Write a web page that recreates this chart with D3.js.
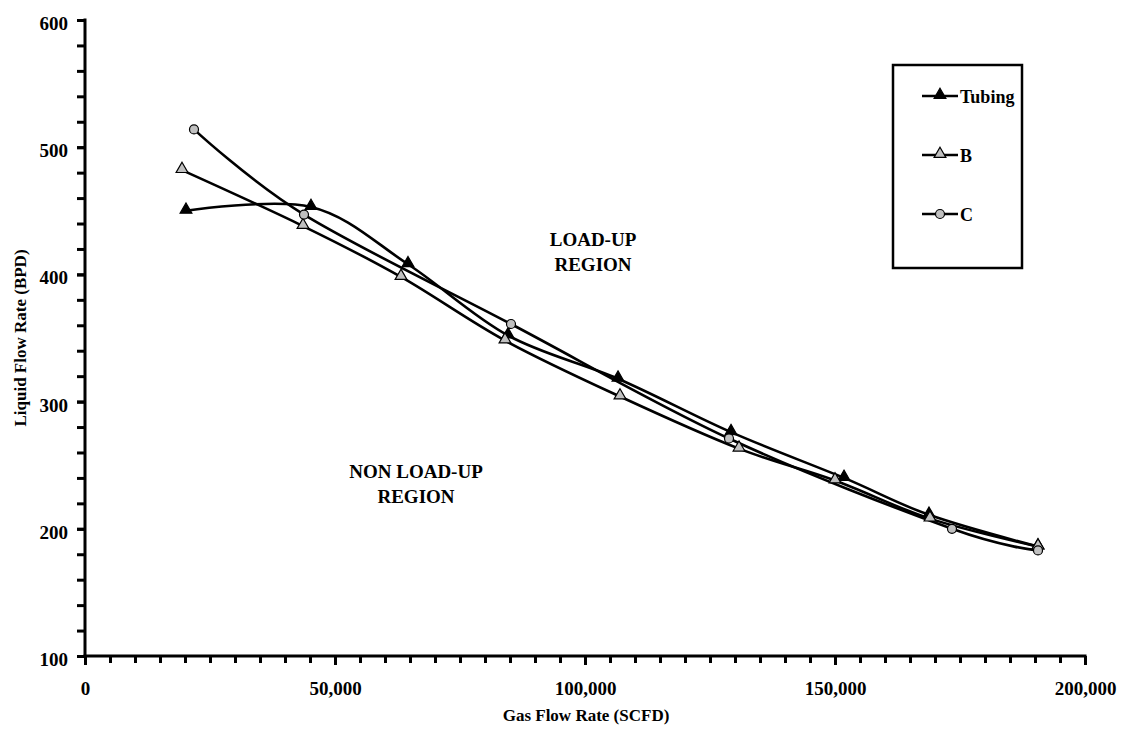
<!DOCTYPE html>
<html>
<head>
<meta charset="utf-8">
<script src="https://cdn.jsdelivr.net/npm/d3@7"></script>
<style>
  body { margin: 0; background: #fff; }
  text { font-family: "Liberation Serif", "Times New Roman", serif; font-weight: bold; fill: #000; }
</style>
</head>
<body>
<div id="wrapper"></div>
<script>
const tubingGas = [20200, 45200, 64600, 84600, 106600, 129200, 151800, 168800, 190600]
const tubingLiquid = [450, 453, 408, 352, 318, 276, 240, 211, 186]

const bGas = [19400, 43600, 63200, 84000, 107000, 130800, 150000, 169000, 190600]
const bLiquid = [482, 438, 398, 348, 304, 263, 238, 208, 186]

const cGas = [21800, 43800, 85200, 128800, 173400, 190600]
const cLiquid = [514, 447, 361, 271, 200, 183]

const xTicks = [0, 50000, 100000, 150000, 200000]
const yTicks = [100, 200, 300, 400, 500, 600]

const series = [
  { name: "Tubing", gas: tubingGas, liquid: tubingLiquid, marker: "filled" },
  { name: "B", gas: bGas, liquid: bLiquid, marker: "hollow" },
  { name: "C", gas: cGas, liquid: cLiquid, marker: "circle" },
]

const dimensions = {
  width: 1122,
  height: 737,
  margin: { top: 20, right: 35, bottom: 81, left: 85 },
}
dimensions.boundedWidth = dimensions.width - dimensions.margin.left - dimensions.margin.right
dimensions.boundedHeight = dimensions.height - dimensions.margin.top - dimensions.margin.bottom

const svg = d3.select("#wrapper").append("svg")
  .attr("width", dimensions.width)
  .attr("height", dimensions.height)

const bounds = svg.append("g")
  .attr("transform", `translate(${dimensions.margin.left},${dimensions.margin.top})`)

const xScale = d3.scaleLinear().domain([0, 200000]).range([0, 1000])
const yScale = d3.scaleLinear().domain([100, 600]).range([dimensions.boundedHeight, 0])

// minor ticks
const xMinor = bounds.append("g")
  .attr("transform", `translate(0,${dimensions.boundedHeight})`)
  .call(d3.axisBottom(xScale).tickValues(d3.range(0, 200001, 5000)).tickSize(7).tickFormat(""))
const xAxis = bounds.append("g")
  .attr("transform", `translate(0,${dimensions.boundedHeight})`)
  .call(d3.axisBottom(xScale).tickValues(xTicks).tickSize(9).tickPadding(17)
    .tickFormat(d3.format(",")))
const yMinor = bounds.append("g")
  .call(d3.axisLeft(yScale).tickValues(d3.range(100, 601, 20)).tickSize(8).tickFormat(""))
const yAxis = bounds.append("g")
  .call(d3.axisLeft(yScale).tickValues(yTicks).tickSize(8).tickPadding(9))

;[xMinor, xAxis, yMinor, yAxis].forEach(ax => {
  ax.attr("font-size", null).attr("font-family", null)
  ax.selectAll(".tick line").attr("stroke", "#000").attr("stroke-width", 3)
  ax.select(".domain").remove()
  ax.selectAll("text").style("font-size", "19px")
})
yAxis.selectAll("text").attr("dy", "0.5em")

// axis lines
bounds.append("line")
  .attr("x1", 0).attr("x2", 0)
  .attr("y1", -1.5).attr("y2", dimensions.boundedHeight + 1.5)
  .attr("stroke", "#000").attr("stroke-width", 3)
bounds.append("line")
  .attr("x1", -1.5).attr("x2", xScale(200000) + 1.5)
  .attr("y1", dimensions.boundedHeight).attr("y2", dimensions.boundedHeight)
  .attr("stroke", "#000").attr("stroke-width", 3)

// axis titles
svg.append("text")
  .attr("x", 586).attr("y", 721)
  .attr("text-anchor", "middle")
  .style("font-size", "17px")
  .text("Gas Flow Rate (SCFD)")
svg.append("text")
  .attr("transform", "translate(26,338) rotate(-90)")
  .attr("text-anchor", "middle")
  .style("font-size", "17px")
  .text("Liquid Flow Rate (BPD)")

// region labels
const notes = [
  { lines: ["LOAD-UP", "REGION"], x: 593, y: 246 },
  { lines: ["NON LOAD-UP", "REGION"], x: 416, y: 478 },
]
notes.forEach(n => {
  n.lines.forEach((l, i) => {
    svg.append("text")
      .attr("x", n.x).attr("y", n.y + i * 25)
      .attr("text-anchor", "middle")
      .style("font-size", "19px")
      .text(l)
  })
})

const line = d3.line()
  .x(d => xScale(d[0]))
  .y(d => yScale(d[1]))
  .curve(d3.curveCardinal.tension(0))

const triangle = d3.symbol().type(d3.symbolTriangle).size(60)

function drawMarker(g, type, x, y) {
  if (type === "circle") {
    g.append("circle").attr("cx", x).attr("cy", y).attr("r", 4.5)
      .attr("fill", "#c0c0c0").attr("stroke", "#000").attr("stroke-width", 1.2)
  } else {
    g.append("path").attr("d", triangle)
      .attr("transform", `translate(${x},${y - 1})`)
      .attr("fill", type === "filled" ? "#000" : "#c0c0c0")
      .attr("stroke", "#000").attr("stroke-width", 1.2)
  }
}

series.forEach(s => {
  const pts = s.gas.map((g, i) => [g, s.liquid[i]])
  bounds.append("path")
    .attr("d", line(pts))
    .attr("fill", "none")
    .attr("stroke", "#000")
    .attr("stroke-width", 2.6)
})
series.forEach(s => {
  const g = bounds.append("g")
  s.gas.forEach((v, i) => drawMarker(g, s.marker, xScale(v), yScale(s.liquid[i])))
})

// legend
const legend = svg.append("g")
legend.append("rect")
  .attr("x", 893).attr("y", 65).attr("width", 129).attr("height", 203)
  .attr("fill", "#fff").attr("stroke", "#000").attr("stroke-width", 2.5)
series.forEach((s, i) => {
  const y = 96 + i * 59
  legend.append("line").attr("x1", 922).attr("x2", 958).attr("y1", y).attr("y2", y)
    .attr("stroke", "#000").attr("stroke-width", 2.6)
  drawMarker(legend, s.marker, 940, y)
  legend.append("text").attr("x", 960).attr("y", y + 7)
    .style("font-size", "18px").text(s.name)
})
</script>
</body>
</html>
